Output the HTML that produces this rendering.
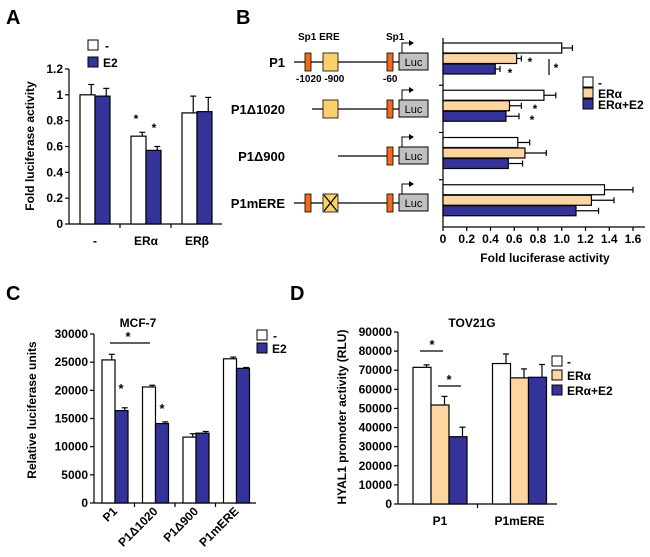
<!DOCTYPE html>
<html><head><meta charset="utf-8"><style>
html,body{margin:0;padding:0;background:#fff;}
svg{display:block;font-family:"Liberation Sans",Arial,sans-serif;font-weight:bold;}
</style></head><body>
<svg id="fig" width="650" height="557" viewBox="0 0 650 557" xmlns="http://www.w3.org/2000/svg"></svg>
<script>
// ---- Panel A data
const aCats=['-','ERα','ERβ'];
const aCtrl=[1.0,0.68,0.86];
const aE2=[0.99,0.57,0.87];
const aCtrlErr=[0.08,0.03,0.13];
const aE2Err=[0.06,0.03,0.11];
const aTicks=['0','0.2','0.4','0.6','0.8','1','1.2'];
// ---- Panel B data
const bCats=['P1','P1Δ1020','P1Δ900','P1mERE'];
const bCtrl=[1.0,0.85,0.63,1.36];
const bEra=[0.62,0.56,0.69,1.25];
const bEraE2=[0.44,0.53,0.55,1.12];
const bCtrlErr=[0.09,0.1,0.1,0.24];
const bEraErr=[0.04,0.1,0.18,0.19];
const bEraE2Err=[0.04,0.11,0.12,0.19];
const bTicks=['0','0.2','0.4','0.6','0.8','1.0','1.2','1.4','1.6'];
// ---- Panel C data
const cCats=['P1','P1Δ1020','P1Δ900','P1mERE'];
const cCtrl=[25400,20600,11700,25600];
const cE2=[16400,14100,12400,23900];
const cCtrlErr=[1000,300,600,300];
const cE2Err=[500,300,300,150];
const cTicks=['0','5000','10000','15000','20000','25000','30000'];
// ---- Panel D data
const dCats=['P1','P1mERE'];
const dCtrl=[71500,73500];
const dEra=[51800,66000];
const dEraE2=[35200,66300];
const dCtrlErr=[1300,5000];
const dEraErr=[4500,4700];
const dEraE2Err=[5000,6700];
const dTicks=['0','10000','20000','30000','40000','50000','60000','70000','80000','90000'];

const BLUE='#333399', ORANGE='#fdd5a0', WHITE='#ffffff';
const NS='http://www.w3.org/2000/svg';
const svg=document.getElementById('fig');
function el(tag,attrs,parent){const e=document.createElementNS(NS,tag);for(const k in attrs)e.setAttribute(k,attrs[k]);(parent||svg).appendChild(e);return e;}
function txt(x,y,s,size,anchor,parent,extra){const t=el('text',Object.assign({x:x,y:y,'font-size':size,'text-anchor':anchor||'start',fill:'#000'},extra||{}),parent);t.textContent=s;return t;}
function line(x1,y1,x2,y2,parent,w){return el('line',{x1,y1,x2,y2,stroke:'#000','stroke-width':w||1.2},parent);}

[['A',6,24],['B',236,24],['C',6,300],['D',290,300]].forEach(p=>{const t=txt(p[1],p[2],p[0],20,'start');});

function vbars(g,opt){
  const y=v=>opt.y0-(v/opt.max)*(opt.y0-opt.yTop);
  line(opt.x0,opt.yTop,opt.x0,opt.y0,g);line(opt.x0,opt.y0,opt.xEnd,opt.y0,g);
  opt.ticks.forEach((t,i)=>{const v=opt.max*i/(opt.ticks.length-1);const yy=y(v);line(opt.x0-4,yy,opt.x0,yy,g);const tt=txt(opt.x0-6,yy+4,t,opt.fs,'end',g);});
  const n=opt.cats.length;const gw=(opt.xEnd-opt.x0)/n;
  for(let i=1;i<n;i++)line(opt.x0+gw*i,opt.y0,opt.x0+gw*i,opt.y0+4,g);
  opt.cats.forEach((c,i)=>{
    const gx=opt.x0+gw*i+opt.pad;
    opt.series.forEach((s,j)=>{
      const bx=gx+j*opt.bw;const top=y(s.vals[i]);
      const r=el('rect',{x:bx,y:top,width:opt.bw,height:opt.y0-top,fill:s.color,stroke:'#000','stroke-width':1.2},g);
      
      const ey=y(s.vals[i]+s.err[i]);const cx=bx+opt.bw*0.75;
      line(cx,top,cx,ey,g);line(cx-3,ey,cx+3,ey,g);
    });
  });
  return {y:y,gw:gw};
}

// ---------- Panel A
const gA=el('g',{});
const A=vbars(gA,{x0:69,xEnd:222,y0:224,yTop:69,max:1.2,ticks:aTicks,cats:aCats,pad:11,bw:15,fs:12,
  series:[{name:'control',vals:aCtrl,err:aCtrlErr,color:WHITE},{name:'e2',vals:aE2,err:aE2Err,color:BLUE}]});
aCats.forEach((c,i)=>{const t=txt(69+A.gw*i+26,245,c,12,'middle',gA);});
{const t=txt(0,0,'Fold luciferase activity',12,'middle',gA,{transform:'translate(34,146) rotate(-90)'});}
el('rect',{x:88,y:40,width:10,height:10,fill:WHITE,stroke:'#000'},gA);txt(105,50,'-',12,'start',gA);
el('rect',{x:88,y:57,width:10,height:10,fill:BLUE,stroke:'#000'},gA);txt(103,67,'E2',12,'start',gA);
txt(136,123,'*',12,'middle',gA);txt(154,132,'*',12,'middle',gA);

// ---------- Panel B diagram
const gD=el('g',{});
const rowsY=[62,109,156,203];const lineStart=[294,312,338,294];
txt(298,40,'Sp1 ERE',10,'start',gD);txt(386,40,'Sp1',10,'start',gD);
txt(296,82,'-1020 -900',10,'start',gD);txt(383,82,'-60',10,'start',gD);
bCats.forEach((c,i)=>{const cy=rowsY[i];
  const lt=txt(285,cy+5,c,13,'end',gD);
  line(lineStart[i],cy,399,cy,gD,1.3);
  if(i===0||i===3)el('rect',{x:305,y:cy-9,width:6,height:18,fill:'#f26a1b',stroke:'#000','stroke-width':0.8},gD);
  if(i<=1||i===3){el('rect',{x:323,y:cy-9,width:15,height:18,fill:'#fdd06a',stroke:'#000','stroke-width':0.8},gD);
    if(i===3){line(324,cy-8,337,cy+8,gD);line(337,cy-8,324,cy+8,gD);}}
  el('rect',{x:387,y:cy-9,width:6,height:18,fill:'#f26a1b',stroke:'#000','stroke-width':0.8},gD);
  el('rect',{x:399,y:cy-9,width:29,height:17,fill:'#c0c0c0',stroke:'#000','stroke-width':1},gD);
  txt(413.5,cy+4,'Luc',11,'middle',gD,{'font-weight':'normal'});
  el('polyline',{points:`402,${cy-9} 402,${cy-19} 410,${cy-19}`,fill:'none',stroke:'#000','stroke-width':1},gD);
  el('polygon',{points:`409,${cy-22} 414,${cy-19} 409,${cy-16}`,fill:'#000'},gD);
});

// ---------- Panel B chart
const gB=el('g',{});
{const x0=443,xMax=633,bMax=1.6,yT=38,yB=227;const x=v=>x0+v/bMax*(xMax-x0);
 line(x0,yT,x0,yB,gB);line(x0,yB,645,yB,gB);
 bTicks.forEach((t,i)=>{const v=bMax*i/(bTicks.length-1);line(x(v),yB,x(v),yB+4,gB);const tt=txt(x(v),243,t,12,'middle',gB);});
 const gh=(yB-yT)/4;for(let i=1;i<4;i++)line(x0-4,yT+gh*i,x0,yT+gh*i,gB);
 const ser=[[bCtrl,bCtrlErr,WHITE,'control'],[bEra,bEraErr,ORANGE,'era'],[bEraE2,bEraE2Err,BLUE,'era-e2']];
 bCats.forEach((c,i)=>{ser.forEach((s,j)=>{const by=yT+gh*i+5+j*10.5;
   const r=el('rect',{x:x0,y:by,width:x(s[0][i])-x0,height:10,fill:s[2],stroke:'#000','stroke-width':1.2},gB);
   
   const ex=x(s[0][i]+s[1][i]);line(x(s[0][i]),by+5,ex,by+5,gB);line(ex,by+2,ex,by+8,gB);});});
 const tt=txt(545,262,'Fold luciferase activity',12,'middle',gB);
 txt(530,66,'*',12,'middle',gB);txt(510,77,'*',12,'middle',gB);line(549,59,549,75,gB);txt(556,72,'*',12,'middle',gB);
 txt(535,113,'*',12,'middle',gB);txt(532,124,'*',12,'middle',gB);
 el('rect',{x:583,y:77,width:10,height:10,fill:WHITE,stroke:'#000'},gB);txt(598,87,'-',12,'start',gB);
 el('rect',{x:583,y:88,width:10,height:10,fill:ORANGE,stroke:'#000'},gB);txt(598,98,'ERα',12,'start',gB);
 el('rect',{x:583,y:99,width:10,height:10,fill:BLUE,stroke:'#000'},gB);txt(598,109,'ERα+E2',12,'start',gB);
}

// ---------- Panel C
const gC=el('g',{});
const C=vbars(gC,{x0:94,xEnd:256,y0:503,yTop:334,max:30000,ticks:cTicks,cats:cCats,pad:8,bw:13,fs:12,
  series:[{name:'control',vals:cCtrl,err:cCtrlErr,color:WHITE},{name:'e2',vals:cE2,err:cE2Err,color:BLUE}]});
cCats.forEach((c,i)=>{const cx=94+C.gw*i+24;const t=txt(0,0,c,12,'end',gC,{transform:`translate(${cx},${512}) rotate(-45)`});});
{const t=txt(0,0,'Relative luciferase units',12,'middle',gC,{transform:'translate(36,410) rotate(-90)'});}
{const t=txt(138,327,'MCF-7',12,'middle',gC);}
el('rect',{x:257,y:330,width:10,height:10,fill:WHITE,stroke:'#000'},gC);txt(273,340,'-',12,'start',gC);
el('rect',{x:257,y:343,width:10,height:10,fill:BLUE,stroke:'#000'},gC);txt(272,353,'E2',12,'start',gC);
line(110,343,150,343,gC);txt(128,341,'*',13,'middle',gC);txt(121,393,'*',13,'middle',gC);txt(162,413,'*',13,'middle',gC);

// ---------- Panel D
const gDD=el('g',{});
const D=vbars(gDD,{x0:398,xEnd:557,y0:504,yTop:332,max:90000,ticks:dTicks,cats:dCats,pad:15,bw:18,fs:12,
  series:[{name:'control',vals:dCtrl,err:dCtrlErr,color:WHITE},{name:'era',vals:dEra,err:dEraErr,color:ORANGE},{name:'era-e2',vals:dEraE2,err:dEraE2Err,color:BLUE}]});
dCats.forEach((c,i)=>{const t=txt(398+D.gw*i+42,525,c,12,'middle',gDD);});
{const t=txt(0,0,'HYAL1 promoter activity (RLU)',12,'middle',gDD,{transform:'translate(346,417) rotate(-90)'});}
{const t=txt(472,327,'TOV21G',12,'middle',gDD);}
el('rect',{x:552,y:356,width:10,height:10,fill:WHITE,stroke:'#000'},gDD);txt(567,366,'-',12,'start',gDD);
el('rect',{x:552,y:370,width:10,height:10,fill:ORANGE,stroke:'#000'},gDD);txt(567,380,'ERα',12,'start',gDD);
el('rect',{x:552,y:385,width:10,height:10,fill:BLUE,stroke:'#000'},gDD);txt(567,395,'ERα+E2',12,'start',gDD);
line(420,351,443,351,gDD);txt(432,349,'*',13,'middle',gDD);line(438,386,461,386,gDD);txt(449,384,'*',13,'middle',gDD);
</script>
</body></html>
